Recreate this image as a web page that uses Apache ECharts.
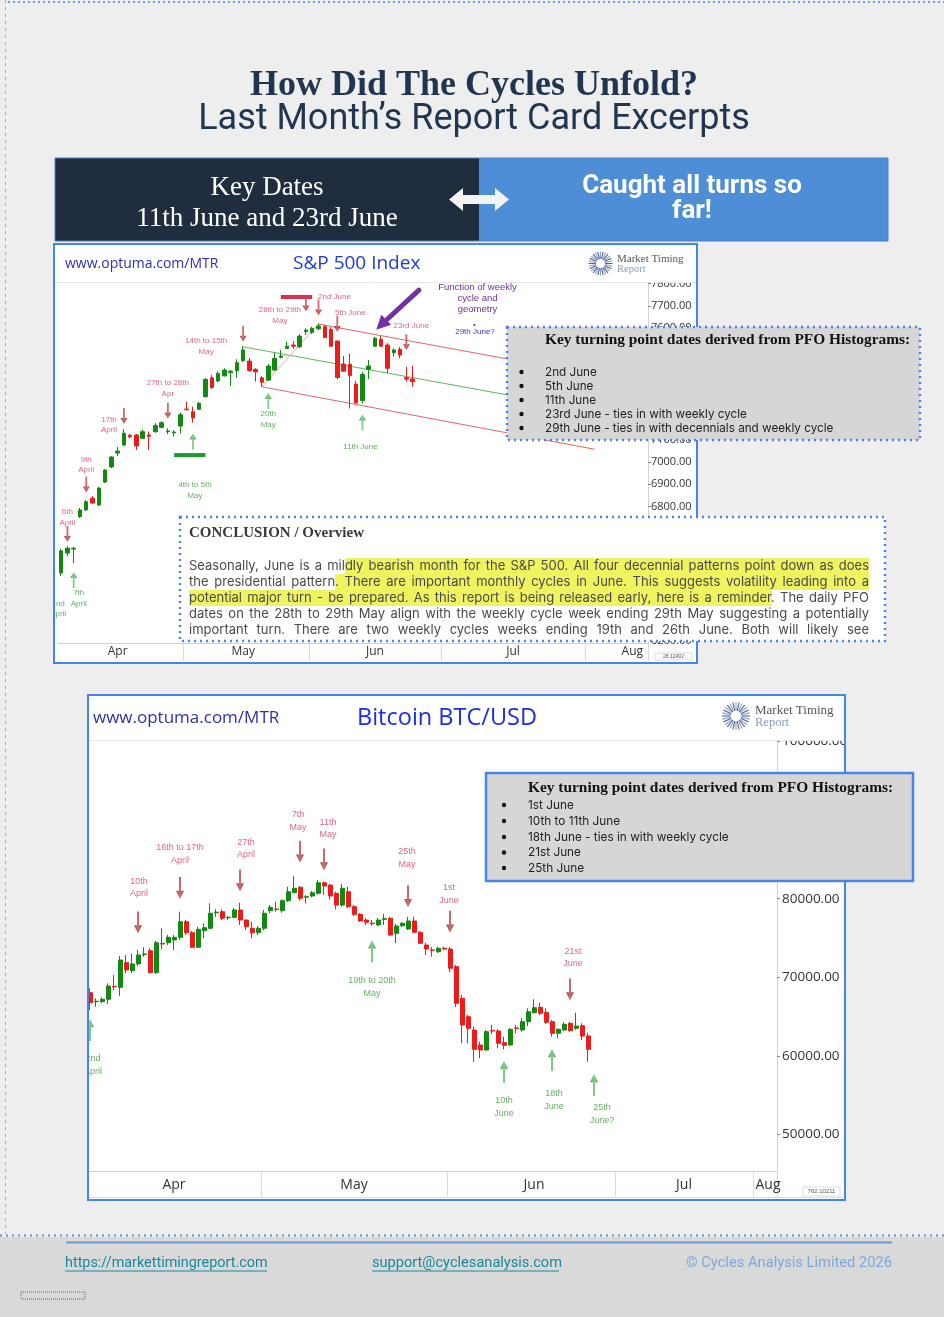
<!DOCTYPE html>
<html><head><meta charset="utf-8">
<script src="https://cdn.jsdelivr.net/npm/echarts@6/dist/echarts.min.js"></script>
<style>html,body{margin:0;padding:0;background:#eeeeee}#c{width:944px;height:1317px}</style>
</head><body><div id="c"></div>
<script>
// ================= DATA =================
const MONTHS = ['Jan','Feb','Mar','Apr','May','Jun','Jul','Aug','Sep'];

// ---- S&P 500 (daily, trading days) ----
const spxDays = ['04-02','04-06','04-07','04-08','04-09','04-10','04-13','04-14','04-15','04-16','04-17','04-20','04-21','04-22','04-23','04-24','04-27','04-28','04-29','04-30',
 '05-01','05-04','05-05','05-06','05-07','05-08','05-11','05-12','05-13','05-14','05-15','05-18','05-19','05-20','05-21','05-22','05-26','05-27','05-28','05-29',
 '06-01','06-02','06-03','06-04','06-05','06-08','06-09','06-10','06-11','06-12','06-15','06-16','06-17','06-18','06-22','06-23','06-24'];
const spxFutureDays = ['06-25','06-26','06-29','06-30','07-01','07-02','07-03','07-06','07-07','07-08','07-09','07-10','07-13','07-14','07-15','07-16','07-17','07-20','07-21','07-22','07-23','07-24','07-27','07-28','07-29','07-30','07-31',
 '08-03','08-04','08-05','08-06','08-07','08-10','08-11','08-12','08-13','08-14'];
// open, close, low, high
const spxOHLC = [
 [6503,6602,6489,6611],[6592,6614,6579,6623],[6610,6614,6547,6620],[6755,6785,6749,6794],[6785,6822,6780,6829],
 [6838,6816,6812,6847],[6807,6883,6803,6888],[6910,6964,6906,6969],[6978,7022,6973,7027],[7040,7049,7027,7067],
 [7076,7129,7072,7148],[7120,7113,7106,7125],[7121,7072,7054,7125],[7106,7136,7103,7146],[7121,7115,7054,7136],
 [7136,7164,7130,7174],[7155,7176,7152,7183],[7136,7139,7125,7151],[7131,7134,7114,7143],[7161,7212,7128,7221],
 [7237,7234,7233,7270],[7225,7198,7176,7248],[7236,7263,7233,7269],[7292,7370,7291,7376],[7377,7334,7327,7390],
 [7363,7397,7358,7407],[7386,7412,7383,7420],[7400,7407,7340,7412],[7409,7445,7377,7460],[7454,7502,7448,7519],
 [7452,7410,7403,7466],[7415,7404,7360,7420],[7377,7357,7337,7385],[7367,7430,7363,7439],[7412,7464,7407,7488],
 [7469,7475,7464,7502],[7509,7519,7506,7539],[7524,7519,7506,7542],[7516,7564,7510,7573],[7584,7591,7569,7599],
 [7581,7599,7573,7606],[7597,7609,7591,7621],[7606,7558,7555,7614],[7594,7519,7515,7604],[7542,7379,7370,7543],
 [7439,7407,7404,7475],[7438,7387,7240,7487],[7349,7265,7260,7363],[7275,7393,7262,7403],[7415,7430,7372,7457],
 [7519,7554,7515,7561],[7549,7519,7515,7564],[7524,7420,7399,7532],[7490,7502,7472,7509],[7505,7479,7464,7515],
 [7378,7372,7360,7427],[7372,7360,7337,7431]
];
const spxYTicks = [6200,6300,6400,6500,6600,6700,6800,6900,7000,7100,7200,7300,7400,7500,7600,7700,7800];
const spxMonthLabelIdx = [9,29,50,72,91];
// trend / channel lines : [date, price]
const spxUpperRed = [['06-02',7618],['07-16',7457]];
const spxLowerRed = [['05-19',7337],['08-04',7057]];
const spxMidGreen = [['05-14',7516],['07-16',7296]];
const spxRiseLine = [['05-19',7337],['06-02',7618]];
const spxGreenBar = [['04-29',7031],['05-06',7031]];
const spxRedBar = [['05-22',7739],['06-01',7739]];
const spxPurpleArrow = [['06-25',7770],['06-16',7615]];
// annotations: [date, price, direction, text]
const spxNotes = [
 ['04-06',6677,'down','6th\nApril'],
 ['04-07',6471,'up','7th\nApril'],
 ['04-02',6343,'text','2nd\nApril'],
 ['04-09',6899,'down','9th\nApril'],
 ['04-17',7206,'down','17th\nApril'],
 ['04-28',7230,'down','27th to 28th\nApr'],
 ['05-04',7092,'up','4th to 5th\nMay'],
 ['05-14',7575,'down','14th to 15th\nMay'],
 ['05-20',7273,'up','20th\nMay'],
 ['05-29',7710,'down','28th to 29th\nMay'],
 ['06-02',7692,'down','2nd June'],
 ['06-05',7618,'down','5th June'],
 ['06-11',7177,'up','11th June'],
 ['06-23',7537,'down','23rd June']
];
const spxNoteOffsets = [[0,-17],[5,18],[-3,0],[0,-19.5],[-15,9],[0,-22.5],[2,49],[-37,12.5],[0,18],[-26,12],[16,-10.5],[13,-11.5],[-2,24],[5,-16]];
const spxKeyDates = ['2nd June','5th June','11th June','23rd June - ties in with weekly cycle','29th June - ties in with decennials and weekly cycle'];
const conclusionLines = [
 'Seasonally, June is a mildly bearish month for the S&P 500. All four decennial patterns point down as does',
 'the presidential pattern. There are important monthly cycles in June. This suggests volatility leading into a',
 'potential major turn - be prepared. As this report is being released early, here is a reminder. The daily PFO',
 'dates on the 28th to 29th May align with the weekly cycle week ending 29th May suggesting a potentially',
 'important turn. There are two weekly cycles weeks ending 19th and 26th June. Both will likely see'
];
const conclusionHighlights = [[0,'dly bearish',null],[1,'. There',null],[2,'potential','. The daily']];

// ---- Bitcoin (daily) ----
const btcDays = ['04-02','04-03','04-04','04-05','04-06','04-07','04-08','04-09','04-10','04-11','04-12','04-13','04-14','04-15','04-16','04-17','04-18','04-19','04-20','04-21','04-22','04-23','04-24','04-25','04-26','04-27','04-28','04-29','04-30',
 '05-01','05-02','05-03','05-04','05-05','05-06','05-07','05-08','05-09','05-10','05-11','05-12','05-13','05-14','05-15','05-16','05-17','05-18','05-19','05-20','05-21','05-22','05-23','05-24','05-25','05-26','05-27','05-28','05-29','05-30','05-31',
 '06-01','06-02','06-03','06-04','06-05','06-06','06-07','06-08','06-09','06-10','06-11','06-12','06-13','06-14','06-15','06-16','06-17','06-18','06-19','06-20','06-21','06-22','06-23','06-24'];
const btcFutureDays = ['06-25','06-26','06-29','06-30','07-01','07-02','07-03','07-06','07-07','07-08','07-09','07-10','07-13','07-14','07-15','07-16','07-17','07-20','07-21','07-22','07-23','07-24','07-27','07-28','07-29','07-30','07-31',
 '08-03','08-04','08-05','08-06'];
const btcOHLC = [
 [68040,66767,65837,68600],[66900,66950,66257,67330],[66900,67200,66730,67490],[67200,68890,66600,69236],[68850,68800,68380,70290],
 [68727,72200,67620,72710],[71860,70930,70510,72840],[70840,71700,70510,73050],[71700,72840,71440,73475],[72900,72970,72620,73820],
 [73390,70590,70510,73690],[70590,74400,70420,74620],[74300,74240,73560,76240],[74400,75090,74110,75380],[74750,75090,73480,75380],
 [75090,77080,74750,78350],[77080,75680,75380,77290],[75680,73820,73730,75890],[73820,76110,73730,76440],[75930,76310,74970,76870],
 [76240,78150,76110,79420],[78220,78290,77710,78660],[78350,77510,77290,78660],[77580,77640,77290,77800],[77640,78570,77550,78820],
 [78570,77290,76660,79500],[77290,76440,76020,77380],[76240,75680,74970,77080],[75680,76240,75380,76530],
 [76240,78150,76020,78570],[78480,78910,78150,79200],[78690,78640,78350,79620],[78480,79750,78220,79930],[79750,80900,79590,81530],
 [80770,81330,80770,82900],[81460,80060,79750,81620],[80200,80260,79400,80480],[80350,80770,80180,80990],[80690,82040,80520,82380],
 [82040,81620,80480,82170],[81750,80350,79930,81880],[80690,79200,78650,80900],[79200,81330,78990,81880],[80900,78990,78820,81530],
 [78990,78020,77800,79200],[78020,77170,77040,78190],[77290,77000,76660,77550],[76900,76840,76530,77290],[76660,77290,76530,77550],
 [77380,77460,76660,78060],[77510,75380,75260,77680],[75600,76530,74370,76790],[76570,76870,76400,77040],[76150,77170,76020,77680],
 [77170,75730,75640,77710],[75730,74330,74240,75890],[74110,73610,72840,74370],[73480,73440,72620,73860],[73260,73690,73090,73900],
 [73690,73600,73480,73900],
 [73600,71150,70670,73860],[71350,66690,66220,71570],[67330,63930,61600,67750],[64980,63510,61600,65200],[63290,60830,59250,63710],
 [61380,60750,59690,61800],[60750,63080,60620,63290],[63240,63160,62780,63930],[63160,61600,60960,63380],[61680,61340,60830,62440],
 [61380,63380,61250,63550],[63550,63510,62870,63930],[63290,64350,63080,64820],[64350,65620,63800,66050],[65490,66130,65420,67200],
 [66180,65420,65200,66770],[65540,64270,64060,66050],[64350,62870,62440,64560],[62870,63380,62230,63510],[63290,64010,63160,64310],
 [64140,63200,63080,64350],[63510,63800,63290,65490],[63840,62530,62020,64140],[62530,60830,59250,62950]
];
const btcYTicks = [50000,60000,70000,80000,90000,100000];
const btcMonthLabelIdx = [14,44,74,99,113];
const btcNotes = [
 ['04-02',63291,'up','2nd\nApril'],
 ['04-10',76976,'down','10th\nApril'],
 ['04-17',81368,'down','16th to 17th\nApril'],
 ['04-27',82323,'down','27th\nApril'],
 ['05-07',85989,'down','7th\nMay'],
 ['05-11',85000,'down','11th\nMay'],
 ['05-25',80311,'down','25th\nMay'],
 ['06-01',77078,'down','1st\nJune'],
 ['05-19',73310,'up','19th to 20th\nMay'],
 ['06-21',68447,'down','21st\nJune'],
 ['06-10',57983,'up','10th\nJune'],
 ['06-18',59472,'up','18th\nJune'],
 ['06-25',56290,'up','25th\nJune?']
];
const btcNoteOffsets = [[3,35],[1,-35],[0,-34],[6,-32],[-2,-31],[4,-31],[-1,-38],[-1,-28],[0,36],[3,-32],[0,35],[2,40],[8,29]];
const btcKeyDates = ['1st June','10th to 11th June','18th June - ties in with weekly cycle','21st June','25th June'];

// ================= HELPERS =================
const G = [];
function rect(x,y,w,h,style,z){G.push({type:'rect',z:z,shape:{x:x,y:y,width:w,height:h},style:style});}
function line(x1,y1,x2,y2,style,z){G.push({type:'line',z:z,shape:{x1:x1,y1:y1,x2:x2,y2:y2},style:style});}
function text(x,y,t,style,z){G.push({type:'text',z:z,x:x,y:y,style:Object.assign({text:t,verticalAlign:'middle'},style)});}
function circle(cx,cy,r,style,z){G.push({type:'circle',z:z,shape:{cx:cx,cy:cy,r:r},style:style});}
function sunburst(cx,cy,r,z){
  for(let k=0;k<28;k++){const a=k/28*Math.PI*2;
    line(cx+Math.cos(a)*r*0.38,cy+Math.sin(a)*r*0.38,cx+Math.cos(a)*r,cy+Math.sin(a)*r,{stroke:k%2?'#8ea0c4':'#4e6394',lineWidth:1.1},z);}
}
const DOWN = 'path://M3,0L5,0L5,10L8,10L4,16L0,10L3,10Z';
const UP = 'path://M4,0L8,6L5,6L5,16L3,16L3,6L0,6Z';
const redGrad = {type:'linear',x:0,y:0,x2:1,y2:0,colorStops:[{offset:0,color:'#871b1e'},{offset:0.5,color:'#c5484b'},{offset:1,color:'#871b1e'}]};
const greenGrad = {type:'linear',x:0,y:0,x2:1,y2:0,colorStops:[{offset:0,color:'#1a8a2a'},{offset:0.5,color:'#63c96f'},{offset:1,color:'#1a8a2a'}]};
const PINK = '#d43f64', GREEN = '#3b9c3b';

function mkX(gi, days, labelIdx, fs, tickLen, margin){
  const starts = [];
  days.forEach(function(d,i){ if(i>0 && d.slice(0,2)!==days[i-1].slice(0,2)) starts.push(i); });
  return {type:'category',gridIndex:gi,data:days,boundaryGap:true,
    axisLine:{show:true,lineStyle:{color:'#d2d2d2',width:1}},
    axisTick:{show:true,interval:function(i){return starts.indexOf(i)>=0;},length:tickLen,lineStyle:{color:'#dadada'}},
    axisLabel:{interval:function(i){return labelIdx.indexOf(i)>=0;},formatter:function(v){return MONTHS[+v.slice(0,2)-1];},
      color:'#333',fontSize:fs,margin:margin,fontFamily:'Open Sans'},
    splitLine:{show:false}};
}
function mkY(gi,min,max,ticks,fs,margin){
  return {type:'value',gridIndex:gi,position:'right',min:min,max:max,
    axisLine:{show:true,lineStyle:{color:'#d2d2d2'}},
    axisTick:{show:true,length:3,customValues:ticks,lineStyle:{color:'#888'}},
    axisLabel:{customValues:ticks,formatter:function(v){return v.toFixed(2);},color:'#333',fontSize:fs,margin:margin,fontFamily:'Open Sans'},
    splitLine:{show:false}};
}
function lineSeries(gi,data,color,width,z,cap){
  return {type:'line',xAxisIndex:gi,yAxisIndex:gi,data:data,symbol:'none',showSymbol:false,silent:true,z:z||2,
    lineStyle:{color:color,width:width,cap:cap||'butt'}};
}
function noteSeries(gi,notes,offsets,arrowSize,fs,lh){
  return {type:'scatter',xAxisIndex:gi,yAxisIndex:gi,silent:true,z:6,
    data:notes.map(function(n,i){
      const t=n[2];
      return {value:[n[0],n[1]],
        symbol:t==='down'?DOWN:(t==='up'?UP:'circle'),
        symbolSize:t==='text'?0.1:arrowSize,
        itemStyle:{color:t==='down'?redGrad:(t==='up'?greenGrad:'rgba(0,0,0,0)')},
        label:{show:true,formatter:n[3],position:'inside',offset:offsets[i],color:t==='down'?PINK:GREEN,
          fontSize:fs,lineHeight:lh,fontFamily:'Liberation Sans',align:'center',verticalAlign:'middle'}};
    })};
}
const candleStyle = {color:'#128a12',color0:'#ee1b1b',borderColor:'#128a12',borderColor0:'#ee1b1b',borderWidth:1};

// ================= STATIC LAYOUT (graphics) =================
rect(0,1237,944,80,{fill:'#d9d9d9'},-20);
rect(55,245,641,417,{fill:'#ffffff'},-10);
rect(89,696,755,503,{fill:'#ffffff'},-10);

// titles
text(474,86,'How Did The Cycles Unfold?',{fontFamily:'Liberation Serif',fontWeight:'bold',fontSize:36,fill:'#1f3550',align:'center'},40);
text(474,120,'Last Month\u2019s Report Card Excerpts',{fontFamily:'Roboto',fontSize:36,fill:'#1f3550',align:'center'},40);

// banner
rect(55,158,424,83,{fill:'#1f2d3f'},39);
rect(479,158,409,83,{fill:'#4d8ed6'},39);
rect(55,158,833,83,{fill:'none',stroke:'#4a80cc',lineWidth:1},39);
text(267,188,'Key Dates',{fontFamily:'Liberation Serif',fontSize:27,fill:'#ffffff',align:'center'},40);
text(267,219,'11th June and 23rd June',{fontFamily:'Liberation Serif',fontSize:27,fill:'#ffffff',align:'center'},40);
text(692,186,'Caught all turns so',{fontFamily:'Roboto',fontWeight:'bold',fontSize:26,fill:'#ffffff',align:'center'},40);
text(692,211,'far!',{fontFamily:'Roboto',fontWeight:'bold',fontSize:26,fill:'#ffffff',align:'center'},40);
G.push({type:'polygon',z:41,shape:{points:[[449,199.5],[463,188],[463,195],[495,195],[495,188],[509,199.5],[495,211],[495,204],[463,204],[463,211]]},style:{fill:'#f3f3f3'}});

// S&P header
rect(55,245,641,37,{fill:'#ffffff'},40);
line(55,282.5,696,282.5,{stroke:'#e4e4e4',lineWidth:1},40);
text(65,264,'www.optuma.com/MTR',{fontFamily:'Open Sans',fontSize:14,fill:'#2b2fb0'},41);
text(293,264,'S&P 500 Index',{fontFamily:'Open Sans',fontSize:19,fill:'#1a3be0'},41);
sunburst(600.5,263.5,12,41);
text(617,259.5,'Market Timing',{fontFamily:'Liberation Serif',fontSize:11,fill:'#555555'},41);
text(617,269,'Report',{fontFamily:'Liberation Serif',fontSize:10.5,fill:'#8a9cc0'},41);
text(477.5,287.3,'Function of weekly',{fontFamily:'Liberation Sans',fontSize:9.5,fill:'#7030a0',align:'center'},30);
text(477.5,298.3,'cycle and',{fontFamily:'Liberation Sans',fontSize:9.5,fill:'#7030a0',align:'center'},30);
text(477.5,309.3,'geometry',{fontFamily:'Liberation Sans',fontSize:9.5,fill:'#7030a0',align:'center'},30);
circle(474.3,325,1,{fill:'#3333aa'},30);
text(475,332,'29th June?',{fontFamily:'Liberation Sans',fontSize:8,fill:'#3a3ab5',align:'center'},30);
rect(655,653,37,7,{fill:'#ffffff',stroke:'#bbbbbb',lineWidth:0.5},41);
text(673.5,656.5,'28.12492',{fontFamily:'Liberation Sans',fontSize:5,fill:'#555',align:'center'},42);

// BTC header
rect(89,696,755,44,{fill:'#ffffff'},40);
line(89,740.5,844,740.5,{stroke:'#eaeaea',lineWidth:1},40);
text(93,718,'www.optuma.com/MTR',{fontFamily:'Open Sans',fontSize:17,fill:'#2b2fb0'},41);
text(357,718,'Bitcoin BTC/USD',{fontFamily:'Open Sans',fontSize:23.5,fill:'#1a2ee6'},41);
sunburst(736,716,14,41);
text(755,711,'Market Timing',{fontFamily:'Liberation Serif',fontSize:13,fill:'#555555'},41);
text(755,722.5,'Report',{fontFamily:'Liberation Serif',fontSize:12.5,fill:'#8a9cc0'},41);
line(89,1197.5,844,1197.5,{stroke:'#dddddd',lineWidth:1},1);
rect(803,1187,37,9,{fill:'#ffffff',stroke:'#bbbbbb',lineWidth:0.5},41);
text(821.5,1191.5,'762.10211',{fontFamily:'Liberation Sans',fontSize:6,fill:'#555',align:'center'},42);

// covers to clip outside panels
rect(0,240,53,430,{fill:'#eeeeee'},45);
rect(0,690,87,515,{fill:'#eeeeee'},45);
rect(846,696,98,76,{fill:'#eeeeee'},45);

// panel borders
rect(54,244,643,419,{fill:'none',stroke:'#3f87ec',lineWidth:2},48);
rect(88,695,757,505,{fill:'none',stroke:'#3f87ec',lineWidth:2},48);

// S&P key box
rect(507,327,413,113,{fill:'#d6d6d6',stroke:'#4a86e8',lineWidth:2.5,lineDash:[2,4]},50);
text(545,340,'Key turning point dates derived from PFO Histograms:',{fontFamily:'Liberation Serif',fontWeight:'bold',fontSize:15.4,fill:'#111111'},51);
spxKeyDates.forEach(function(s,i){const y=372+i*14;circle(521.5,y,2.2,{fill:'#111'},51);text(545,y,s,{fontFamily:'Inter',fontSize:11.7,fill:'#222'},51);});

// Conclusion box
rect(180,517,705,124,{fill:'#ffffff',stroke:'#4a86e8',lineWidth:2.5,lineDash:[2,4]},50);
text(189,533,'CONCLUSION / Overview',{fontFamily:'Liberation Serif',fontWeight:'bold',fontSize:15,fill:'#3a3a3a'},51);
(function(){
  const x0=189,width=680,ys=[566,582,598,614,630],fam='Inter';
  const ctx=document.createElement('canvas').getContext('2d');
  let fs=13; ctx.font=fs+'px '+fam;
  const maxNat=Math.max.apply(null,conclusionLines.map(function(l){return ctx.measureText(l).width;}));
  if(maxNat>width-6) fs=fs*(width-6)/maxNat;
  ctx.font=fs+'px '+fam;
  conclusionLines.forEach(function(ln,li){
    const words=ln.split(' ');
    const ws=words.map(function(w){return ctx.measureText(w).width;});
    const gap=(width-ws.reduce(function(a,b){return a+b;},0))/(words.length-1);
    const xs=[],cs=[];let x=x0,c=0;
    words.forEach(function(w,i){xs.push(x);cs.push(c);x+=ws[i]+gap;c+=w.length+1;});
    function posAt(ci){
      if(ci>=ln.length) return x0+width;
      for(let i=words.length-1;i>=0;i--){ if(ci>=cs[i]){const off=ci-cs[i];
        return off>=words[i].length? xs[i]+ws[i] : xs[i]+ctx.measureText(words[i].slice(0,off)).width;} }
      return x0;
    }
    conclusionHighlights.filter(function(h){return h[0]===li;}).forEach(function(h){
      const a=posAt(ln.indexOf(h[1])); const b=h[2]?posAt(ln.indexOf(h[2])):x0+width;
      rect(a,ys[li]-8,b-a,16,{fill:'#eef35f'},51);
    });
    words.forEach(function(w,i){text(xs[i],ys[li],w,{fontFamily:fam,fontSize:fs,fill:'#4a4a4a'},52);});
  });
})();

// BTC key box
rect(486,773,427,108,{fill:'#d6d6d6',stroke:'#4a86e8',lineWidth:2.5},50);
text(528,788,'Key turning point dates derived from PFO Histograms:',{fontFamily:'Liberation Serif',fontWeight:'bold',fontSize:15.4,fill:'#111111'},51);
const btcKeyY=[805,821,837,852.5,868];
btcKeyDates.forEach(function(s,i){circle(504,btcKeyY[i],2.2,{fill:'#111'},51);text(528,btcKeyY[i],s,{fontFamily:'Inter',fontSize:11.8,fill:'#222'},51);});

// footer
line(0,1235.5,944,1235.5,{stroke:'#5b8fd6',lineWidth:2,lineDash:[2,4]},60);
line(66,1242.5,892,1242.5,{stroke:'#6c9bd4',lineWidth:2},40);
text(65,1263.5,'https://markettimingreport.com',{fontFamily:'Roboto',fontSize:14.4,fill:'#17899b'},41);
line(65,1271,267,1271,{stroke:'#17899b',lineWidth:1},41);
text(372,1263.5,'support@cyclesanalysis.com',{fontFamily:'Roboto',fontSize:14.6,fill:'#17899b'},41);
line(372,1271,559,1271,{stroke:'#17899b',lineWidth:1},41);
text(892,1263.5,'\u00a9 Cycles Analysis Limited 2026',{fontFamily:'Roboto',fontSize:14.7,fill:'#7da7db',align:'right'},41);
rect(21,1292,64,7,{fill:'none',stroke:'#666666',lineWidth:1,lineDash:[1,1]},41);
line(8,2,944,2,{stroke:'#6d9bd8',lineWidth:2,lineDash:[2,3]},60);
line(5.5,0,5.5,1234,{stroke:'#8fb0dc',lineWidth:1,lineDash:[3,4]},60);

// ================= CHART =================
const chart = echarts.init(document.getElementById('c'), null, {renderer:'canvas'});
chart.setOption({
  animation:false,
  backgroundColor:'#eeeeee',
  grid:[{left:58,top:283,width:590,height:360},{left:87,top:740,width:690,height:431}],
  xAxis:[mkX(0,spxDays.concat(spxFutureDays),spxMonthLabelIdx,12,18,3),
         mkX(1,btcDays.concat(btcFutureDays),btcMonthLabelIdx,14,26,7)],
  yAxis:[mkY(0,6189,7802,spxYTicks,11,3),mkY(1,45342,100208,btcYTicks,13.5,5)],
  series:[
    lineSeries(0,spxUpperRed,'#e26666',1),
    lineSeries(0,spxLowerRed,'#e26666',1),
    lineSeries(0,spxMidGreen,'#5cb85c',1),
    lineSeries(0,spxRiseLine,'#f2a6a6',1),
    {type:'candlestick',xAxisIndex:0,yAxisIndex:0,data:spxOHLC,barWidth:4,itemStyle:candleStyle,z:3,silent:true},
    lineSeries(0,spxGreenBar,'#1f9a2f',4,4),
    lineSeries(0,spxRedBar,'#d8304d',4,4),
    lineSeries(0,spxPurpleArrow,'#7232a6',5,7,'round'),
    {type:'scatter',xAxisIndex:0,yAxisIndex:0,silent:true,z:8,
      data:[{value:spxPurpleArrow[1],symbol:'triangle',symbolSize:[14,14],symbolRotate:135}],
      itemStyle:{color:'#7232a6',opacity:1}},
    noteSeries(0,spxNotes,spxNoteOffsets,[7,16],8,10.5),
    {type:'candlestick',xAxisIndex:1,yAxisIndex:1,data:btcOHLC,barWidth:4.5,itemStyle:candleStyle,z:3,silent:true},
    noteSeries(1,btcNotes,btcNoteOffsets,[8,22],9,12.7)
  ],
  graphic:{elements:G}
});
</script></body></html>
